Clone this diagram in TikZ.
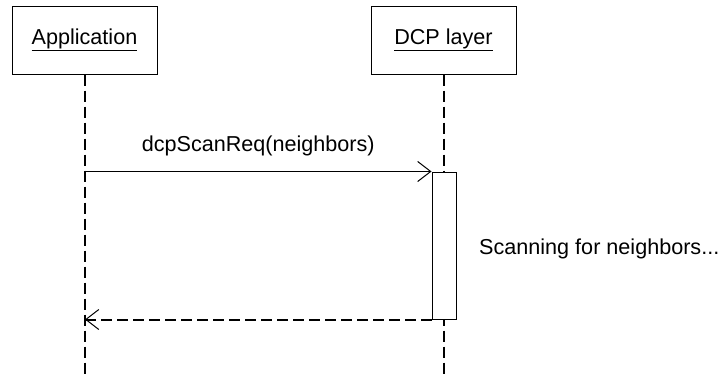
\documentclass[tikz,border=0pt]{standalone}
\usepackage{fontspec}
\setmainfont{Liberation Sans}
\usetikzlibrary{arrows.meta}

\begin{document}
\begin{tikzpicture}[x=1pt,y=-1pt]
\tikzset{obj/.style={draw,line width=1pt,minimum width=145pt,minimum height=68pt,inner sep=0pt,font=\fontsize{21.6}{26}\selectfont},
  lifeline/.style={line width=2pt,dash pattern=on 11pt off 5pt},
  msg/.style={line width=1pt,-{Straight Barb[length=13pt,width=20pt,line width=1pt]}},
  lbl/.style={inner sep=0pt,font=\fontsize{21.6}{26}\selectfont}}
\useasboundingbox (0,0) rectangle (718,375);

% the two objects and their lifelines
\node[obj] (app) at (84.5,40) {\underline{Application}};
\node[obj] (dcp) at (443.5,40) {\underline{DCP layer}};
\coordinate (append) at (85,375);
\coordinate (dcpend) at (444,375);
\draw[lifeline] (app.south -| append) -- (append);
\draw[lifeline] (dcp.south -| dcpend) -- (dcpend);

% activation of the DCP layer
\node[draw,fill=white,line width=1pt,minimum width=24pt,minimum height=147pt,inner sep=0pt] (act) at (444,245.5) {};

% request and (dashed) return
\draw[msg] (append |- act.north) -- (act.north west)
  node[lbl,pos=0.5,anchor=base,yshift=20pt] (req) {dcpScanReq(neighbors)};
\draw[msg,lifeline] (act.south west) -- (append |- act.south);
\node[lbl,anchor=base west] (scan) at (479,254) {Scanning for neighbors...};
\end{tikzpicture}
\end{document}
